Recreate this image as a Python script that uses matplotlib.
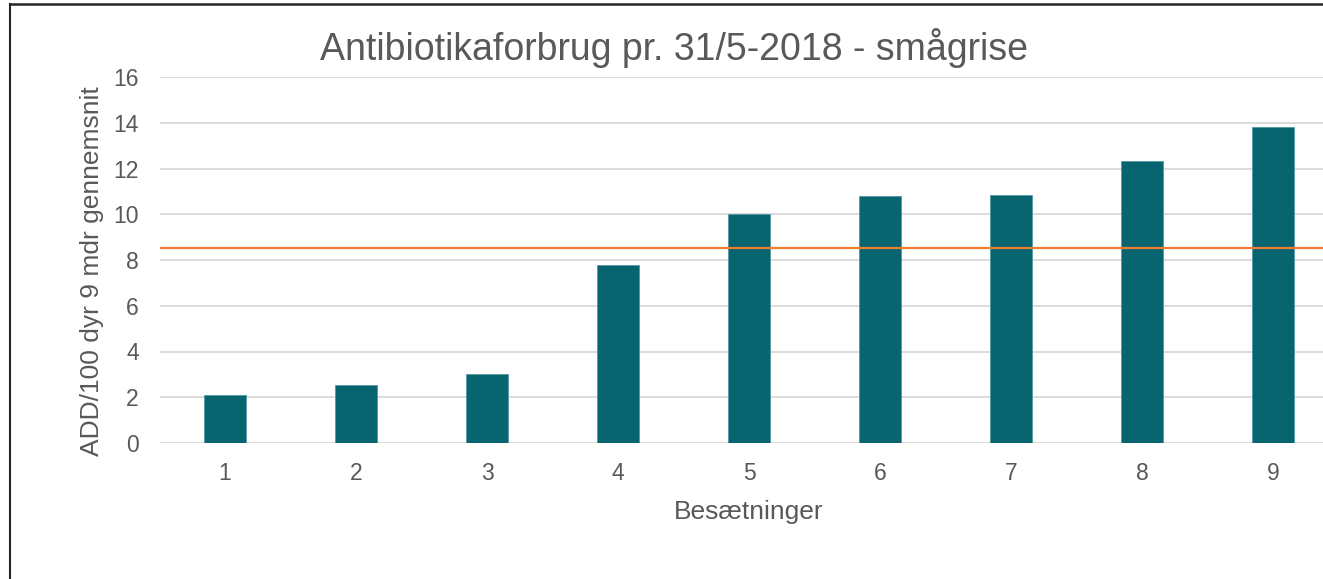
import matplotlib.pyplot as plt
from matplotlib.lines import Line2D

# herd numbers and antibiotic use (ADD/100 animals, 9 month average)
herds = [1, 2, 3, 4, 5, 6, 7, 8, 9]
add_values = [2.11, 2.55, 3.02, 7.77, 10.01, 10.80, 10.84, 12.31, 13.80]
threshold = 8.53

W, H = 1323, 579
fig = plt.figure(figsize=(W / 100, H / 100), dpi=100)
plt.rcParams['font.family'] = ['Liberation Sans', 'DejaVu Sans']

ax = fig.add_axes([159.5 / W, 136 / H, 1179 / W, 366 / H])
ax.bar(herds, add_values, width=0.316, color='#08656F', edgecolor='#4E9AA2', linewidth=0.6, zorder=3)
ax.axhline(threshold, color='#ED7D31', lw=1.6, zorder=4)

ax.set_xlim(0.5, 9.5)
ax.set_ylim(0, 16)
ax.set_yticks(range(0, 17, 2))
ax.set_xticks(herds)
ax.grid(axis='y', color='#D9D9D9', lw=1.3, zorder=0)
ax.set_axisbelow(True)
for s in ax.spines.values():
    s.set_visible(False)
ax.tick_params(length=0, labelsize=16.5, colors='#595959')
ax.tick_params(axis='y', pad=15)
ax.tick_params(axis='x', pad=14)

fig.text(674.5 / W, 1 - 60 / H, 'Antibiotikaforbrug pr. 31/5-2018 - smågrise',
         ha='center', va='baseline', fontsize=27, color='#595959')
fig.text(92 / W, 1 - 271.5 / H, 'ADD/100 dyr 9 mdr gennemsnit', rotation=90,
         ha='center', va='center', fontsize=19, color='#595959')
fig.text(748.5 / W, 1 - 519 / H, 'Besætninger', ha='center', va='baseline',
         fontsize=19, color='#595959')

# chart frame
fig.add_artist(Line2D([10 / W, 10 / W], [0, 1 - 4 / H], color='#262626', lw=1.5, transform=fig.transFigure))
fig.add_artist(Line2D([10 / W, 1], [1 - 4 / H, 1 - 4 / H], color='#262626', lw=1.8, transform=fig.transFigure))

fig.savefig('out.png', dpi=100)
